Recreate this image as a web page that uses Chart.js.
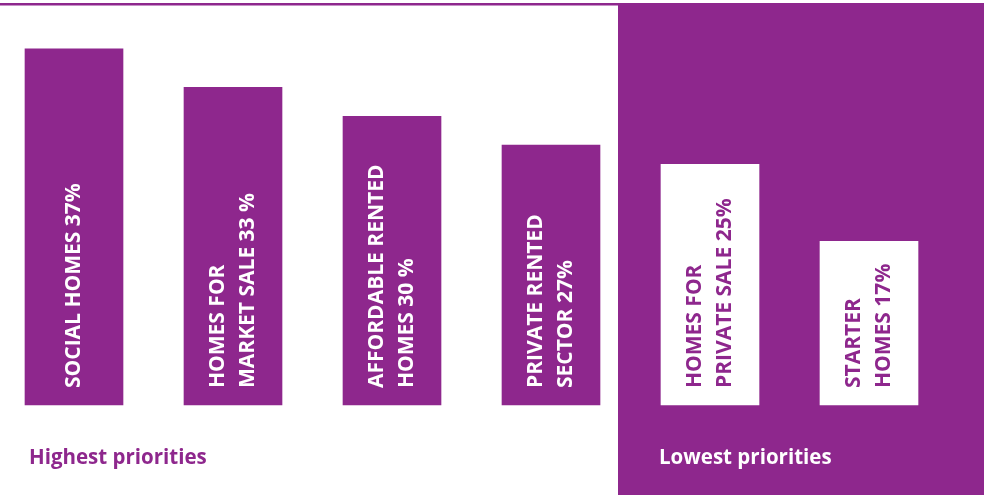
<!DOCTYPE html>
<html>
<head>
<meta charset="utf-8">
<script src="https://cdn.jsdelivr.net/npm/chart.js@4/dist/chart.umd.min.js"></script>
<style>
  html, body { margin: 0; padding: 0; background: #fff; }
  #wrap { width: 984px; height: 495px; position: relative; }
</style>
</head>
<body>
<div id="wrap"><canvas id="chart"></canvas></div>
<script>
var categories = ['Social homes', 'Homes for market sale', 'Affordable rented homes', 'Private rented sector', 'Homes for private sale', 'Starter homes'];
var values = [37, 33, 30, 27, 25, 17];
var barLabels = [
  ['SOCIAL HOMES 37%'],
  ['HOMES FOR', 'MARKET SALE 33 %'],
  ['AFFORDABLE RENTED', 'HOMES 30 %'],
  ['PRIVATE RENTED', 'SECTOR 27%'],
  ['HOMES FOR', 'PRIVATE SALE 25%'],
  ['STARTER', 'HOMES 17%']
];
var lowest = [false, false, false, false, true, true];

var purple = '#8e278d';
var fontFamily = '"Open Sans", "DejaVu Sans", sans-serif';

// background: top rule on the left, purple panel on the right
var backdrop = {
  id: 'backdrop',
  beforeDraw: function (chart) {
    var ctx = chart.ctx;
    ctx.save();
    ctx.fillStyle = '#fff';
    ctx.fillRect(0, 0, chart.width, chart.height);
    ctx.fillStyle = purple;
    ctx.fillRect(0, 3, 618, 2.5);
    ctx.fillRect(618, 3, chart.width - 618, chart.height - 3);
    ctx.restore();
  },
  afterDraw: function (chart) {
    var ctx = chart.ctx;
    ctx.save();
    ctx.font = 'bold 20.5px ' + fontFamily;
    ctx.textBaseline = 'alphabetic';
    ctx.textAlign = 'left';
    ctx.fillStyle = purple;
    ctx.fillText('Highest priorities', 29, 464);
    ctx.fillStyle = '#fff';
    ctx.fillText('Lowest priorities', 659, 464);
    ctx.restore();
  }
};

// rotated labels inside the bars
var insideLabels = {
  id: 'insideLabels',
  afterDatasetsDraw: function (chart) {
    var ctx = chart.ctx;
    var meta = chart.getDatasetMeta(0);
    var lineH = 29.5;
    ctx.save();
    ctx.font = 'bold 21px ' + fontFamily;
    ctx.textAlign = 'left';
    ctx.textBaseline = 'middle';
    meta.data.forEach(function (bar, i) {
      var lines = barLabels[i];
      ctx.save();
      ctx.translate(bar.x, bar.base - 17);
      ctx.rotate(-Math.PI / 2);
      ctx.fillStyle = lowest[i] ? purple : '#fff';
      var first = -(lines.length - 1) * lineH / 2;
      lines.forEach(function (t, j) {
        ctx.fillText(t, 0, first + j * lineH);
      });
      ctx.restore();
    });
    ctx.restore();
  }
};

new Chart(document.getElementById('chart'), {
  type: 'bar',
  data: {
    labels: categories,
    datasets: [{
      data: values,
      backgroundColor: lowest.map(function (l) { return l ? '#fff' : purple; }),
      borderWidth: 0,
      barThickness: 98,
      clip: false
    }]
  },
  options: {
    responsive: true,
    maintainAspectRatio: false,
    animation: false,
    events: [],
    layout: { padding: { left: 74, right: 115, top: 20, bottom: 90 } },
    plugins: { legend: { display: false }, tooltip: { enabled: false } },
    scales: {
      x: { display: false, offset: false },
      y: { display: false, min: 0, max: 40 }
    }
  },
  plugins: [backdrop, insideLabels]
});
</script>
</body>
</html>
